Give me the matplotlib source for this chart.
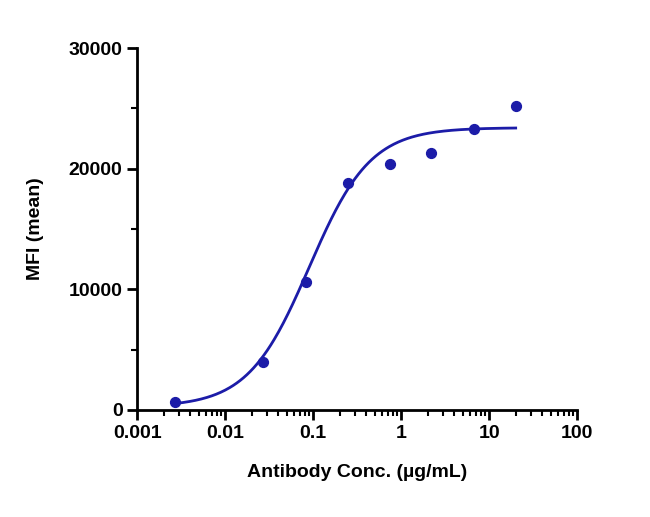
import numpy as np
from matplotlib import pyplot as plt
from matplotlib.ticker import LogLocator, FixedLocator

plt.rcParams['font.family'] = ['Liberation Sans', 'DejaVu Sans']
plt.rcParams['font.weight'] = 'bold'

# measured points
conc = [0.0027, 0.027, 0.082, 0.25, 0.74, 2.2, 6.7, 20]
mfi = [700, 4000, 10600, 18800, 20400, 21300, 23300, 25200]

# 4PL fit parameters
bottom, top, ec50, hill = 250, 23400, 0.09, 1.25

def four_pl(x):
    return bottom + (top - bottom) / (1 + (ec50 / x) ** hill)

color = '#1c1ca8'
fig = plt.figure(figsize=(6.5, 5.17), dpi=100)
ax = fig.add_axes([0.211, 0.207, 0.677, 0.700])

xs = np.logspace(np.log10(0.0027), np.log10(20), 300)
ax.plot(xs, four_pl(xs), color=color, lw=2)
ax.scatter(conc, mfi, color=color, s=50, zorder=3)

ax.set_xscale('log')
ax.set_xlim(0.001, 100)
ax.set_ylim(0, 30000)
ax.xaxis.set_major_locator(FixedLocator([0.001, 0.01, 0.1, 1, 10, 100]))
ax.set_xticklabels(['0.001', '0.01', '0.1', '1', '10', '100'])
ax.xaxis.set_minor_locator(LogLocator(base=10, subs=np.arange(2, 10), numticks=20))
ax.set_yticks([0, 10000, 20000, 30000])
ax.yaxis.set_minor_locator(FixedLocator([5000, 15000, 25000]))

for s in ['top', 'right']:
    ax.spines[s].set_visible(False)
for s in ['left', 'bottom']:
    ax.spines[s].set_linewidth(2)
ax.tick_params(which='major', width=2, length=7, labelsize=14)
ax.tick_params(which='minor', width=1.5, length=4)

ax.set_xlabel('Antibody Conc. (µg/mL)', fontsize=14, fontweight='bold', labelpad=16)
ax.set_ylabel('MFI (mean)', fontsize=14, fontweight='bold', labelpad=18)

fig.savefig('out.png', dpi=100)
